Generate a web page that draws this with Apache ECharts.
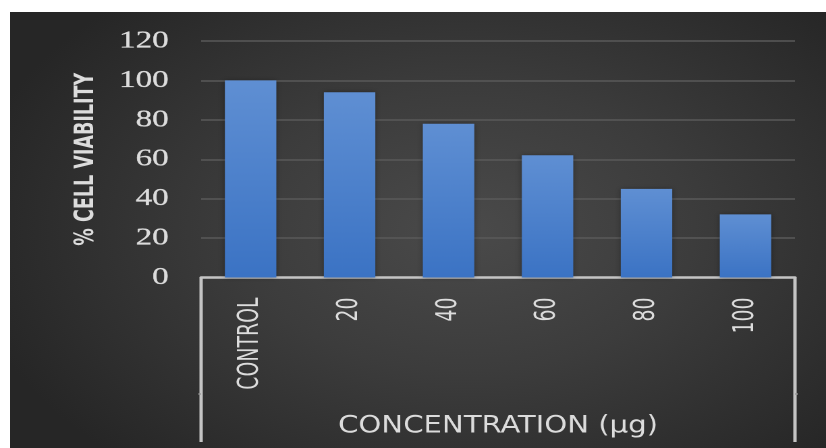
<!DOCTYPE html>
<html>
<head>
<meta charset="utf-8">
<script src="https://cdn.jsdelivr.net/npm/echarts@6.0.0/dist/echarts.min.js"></script>
<style>
  html, body { margin: 0; padding: 0; background: #ffffff; width: 826px; height: 448px; overflow: hidden; }
  #panel {
    position: absolute; left: 10px; top: 12px; width: 816px; height: 436px;
    background: radial-gradient(ellipse 62% 72% at 56% 50%, #4a4a4a 0%, #3c3c3c 45%, #262626 100%);
  }
  /* chart is laid out narrow and widened horizontally, giving the wide type of the original slide */
  #chart {
    position: absolute; left: 0; top: 0; width: 612px; height: 448px;
    transform: scaleX(1.3497); transform-origin: 0 0;
  }
</style>
</head>
<body>
<div id="panel"></div>
<div id="chart"></div>
<script>
// Cell viability at increasing concentration
const categories = ['CONTROL', '20', '40', '60', '80', '100'];
const viability = [100, 94, 78, 62, 45, 32];
const yMin = 0, yMax = 120, yStep = 20;
const xTitle = 'CONCENTRATION (\u00B5g)';
const yTitle = '% CELL VIABILITY';

// layout (in the unscaled chart box)
const GRID = { left: 149, right: 23, top: 41, bottom: 170.5 };
const W = 612, H = 448;
const LINE_COLOR = '#c4c4c4';
const TEXT_COLOR = '#dcdcdc';
const NARROW = '"Liberation Sans Narrow", "DejaVu Sans Condensed", sans-serif';

const chart = echarts.init(document.getElementById('chart'), null, { renderer: 'canvas', devicePixelRatio: 2 });

const axisX0 = GRID.left, axisX1 = W - GRID.right, axisY = H - GRID.bottom;
const boxBottom = 442, midTickY = 394;

chart.setOption({
  backgroundColor: 'transparent',
  animation: false,
  grid: { left: GRID.left, right: GRID.right, top: GRID.top, bottom: GRID.bottom, containLabel: false },
  xAxis: {
    type: 'category',
    data: categories,
    name: xTitle,
    nameLocation: 'middle',
    nameGap: 137,
    nameTextStyle: { color: TEXT_COLOR, fontFamily: NARROW, fontSize: 24 },
    axisLine: { show: true, lineStyle: { color: LINE_COLOR, width: 2.5 } },
    axisTick: { show: false },
    axisLabel: {
      interval: 0, rotate: 90, margin: 20,
      color: TEXT_COLOR,
      fontFamily: NARROW,
      fontSize: 21
    },
    splitLine: { show: false }
  },
  yAxis: {
    type: 'value',
    min: yMin, max: yMax, interval: yStep,
    name: yTitle,
    nameLocation: 'middle',
    nameGap: 75,
    nameRotate: 90,
    nameTextStyle: { color: TEXT_COLOR, fontWeight: 'bold', fontFamily: NARROW, fontSize: 19.5 },
    axisLine: { show: false },
    axisTick: { show: false },
    axisLabel: {
      color: TEXT_COLOR, fontFamily: '"Liberation Serif", "DejaVu Serif", serif', fontSize: 24.5, margin: 24,
      textBorderColor: TEXT_COLOR, textBorderWidth: 0.3
    },
    splitLine: { show: true, lineStyle: { color: '#5a5a5a', width: 1.6 } }
  },
  series: [{
    type: 'bar',
    data: viability,
    barWidth: '52%',
    z: 3,
    itemStyle: {
      color: new echarts.graphic.LinearGradient(0, 0, 0, 1, [
        { offset: 0, color: '#5f8fd3' },
        { offset: 1, color: '#3b73c4' }
      ]),
      shadowColor: 'rgba(0,0,0,0.35)',
      shadowBlur: 4
    }
  }],
  graphic: [
    // box lines enclosing the category labels and the axis title
    { type: 'line', shape: { x1: axisX0, y1: axisY, x2: axisX0, y2: boxBottom }, style: { stroke: LINE_COLOR, lineWidth: 2.5 }, z: 10 },
    { type: 'line', shape: { x1: axisX1, y1: axisY, x2: axisX1, y2: boxBottom }, style: { stroke: LINE_COLOR, lineWidth: 2.5 }, z: 10 },
    { type: 'line', shape: { x1: axisX0 - 2, y1: midTickY, x2: axisX0, y2: midTickY }, style: { stroke: '#9a9a9a', lineWidth: 1.5 }, z: 10 },
    { type: 'line', shape: { x1: axisX1, y1: midTickY, x2: axisX1 + 2, y2: midTickY }, style: { stroke: '#9a9a9a', lineWidth: 1.5 }, z: 10 }
  ]
});
</script>
</body>
</html>
